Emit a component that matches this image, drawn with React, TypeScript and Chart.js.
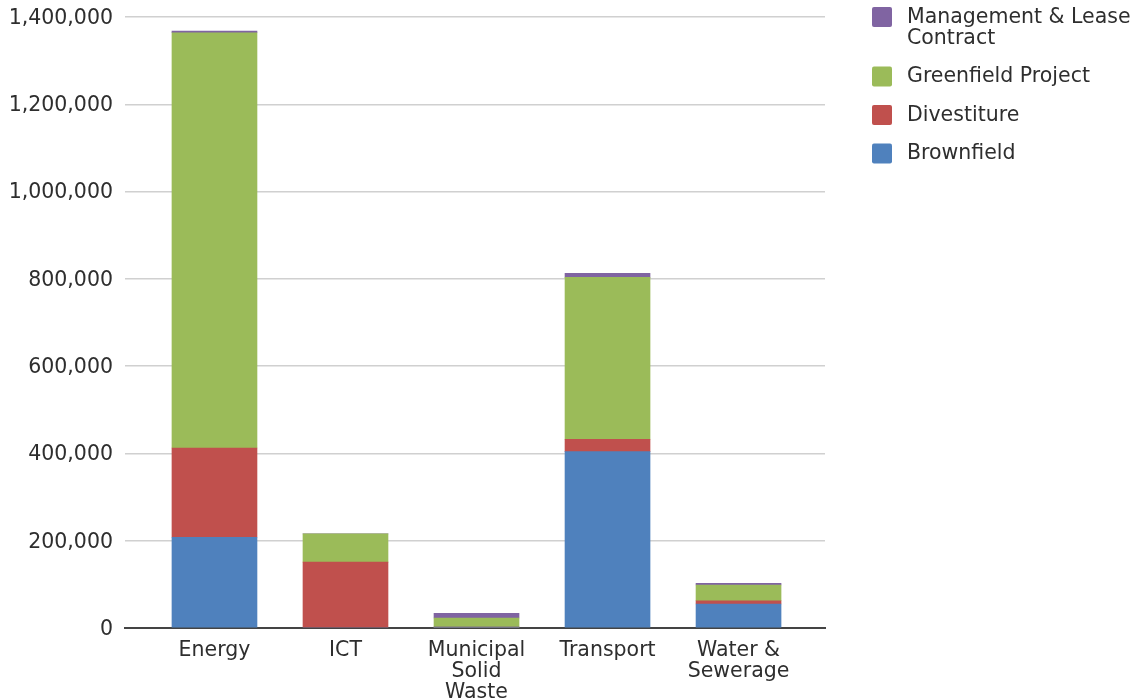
import React, { useEffect, useRef } from "react";
import { Chart, registerables } from "chart.js";

Chart.register(...registerables);

// Sector categories along the x axis
const categories = ["Energy", "ICT", "Municipal Solid Waste", "Transport", "Water & Sewerage"];
const categoryTickLabels: (string | string[])[] = ["Energy", "ICT", ["Municipal", "Solid", "Waste"], "Transport", ["Water &", "Sewerage"]];

// Investment by project type (stacked bottom to top)
const brownfield = [208000, 0, 2000, 404000, 55000];
const divestiture = [204500, 151000, 0, 28500, 7500];
const greenfield = [951500, 64500, 21000, 371000, 36000];
const managementLease = [3900, 0, 10800, 9200, 3900];

const yTicks = [0, 200000, 400000, 600000, 800000, 1000000, 1200000, 1400000];

const FONT = "'DejaVu Sans', Verdana, sans-serif";
const FONT_SIZE = 20.5;
const TEXT_COLOR = "#2e2e2e";

// Legend drawn to the right of the plot, top series first
const sideLegend = {
  id: "sideLegend",
  afterDraw(chart: Chart) {
    const { ctx, chartArea } = chart;
    const left = chartArea.right + 47;
    const textX = left + 35;
    const maxWidth = 230;
    const lineH = 21;
    const gap = 17.5;
    ctx.save();
    ctx.font = `${FONT_SIZE}px ${FONT}`;
    ctx.textBaseline = "middle";
    ctx.textAlign = "left";
    let y = 7;
    const items = chart.data.datasets.slice().reverse();
    for (const ds of items) {
      // greedy word wrap
      const words = String(ds.label).split(" ");
      const lines: string[] = [];
      let cur = "";
      for (const w of words) {
        const t = cur ? cur + " " + w : w;
        if (ctx.measureText(t).width > maxWidth && cur) {
          lines.push(cur);
          cur = w;
        } else cur = t;
      }
      if (cur) lines.push(cur);
      ctx.fillStyle = ds.backgroundColor as string;
      ctx.beginPath();
      (ctx as any).roundRect(left, y, 20, 20, 2);
      ctx.fill();
      ctx.fillStyle = TEXT_COLOR;
      lines.forEach((ln, i) => ctx.fillText(ln, textX, y + 10.5 + i * lineH));
      y += lines.length * lineH + gap;
    }
    ctx.restore();
  },
};

export default function App() {
  const canvasRef = useRef<HTMLCanvasElement | null>(null);

  useEffect(() => {
    document.body.style.margin = "0";
    const canvas = canvasRef.current;
    if (!canvas) return;
    const toPoints = (arr: number[]) => arr.map((v, i) => ({ x: i, y: v }));
    const font = { family: FONT, size: FONT_SIZE, lineHeight: 1.0 };
    const chart = new Chart(canvas, {
      type: "bar",
      data: {
        datasets: [
          { label: "Brownfield", data: toPoints(brownfield), backgroundColor: "#4F81BD" },
          { label: "Divestiture", data: toPoints(divestiture), backgroundColor: "#C0504D" },
          { label: "Greenfield Project", data: toPoints(greenfield), backgroundColor: "#9BBB59" },
          { label: "Management & Lease Contract", data: toPoints(managementLease), backgroundColor: "#8064A2" },
        ].map((d) => ({ ...d, barThickness: 85, borderWidth: 0 })),
      },
      options: {
        responsive: false,
        animation: false,
        layout: { padding: { top: 17, left: 8, right: 309, bottom: 0 } },
        plugins: {
          legend: { display: false },
          tooltip: { enabled: false },
        },
        scales: {
          x: {
            type: "linear",
            stacked: true,
            offset: false,
            min: -0.683,
            max: 4.66,
            afterBuildTicks: (s: any) => {
              s.ticks = categories.map((_, i) => ({ value: i }));
            },
            afterFit: (s: any) => {
              s.height = 72;
              s.paddingLeft = 0;
              s.paddingRight = 0;
            },
            ticks: {
              autoSkip: false,
              maxRotation: 0,
              padding: 12,
              color: TEXT_COLOR,
              font: { ...font, lineHeight: 1.02 },
              callback: (v: any) => categoryTickLabels[Number(v)] ?? "",
            },
            grid: { display: false, drawTicks: false },
            border: { display: true, color: "#444444", width: 2 },
          },
          y: {
            stacked: true,
            min: 0,
            max: 1400000,
            afterBuildTicks: (s: any) => {
              s.ticks = yTicks.map((v) => ({ value: v }));
            },
            afterFit: (s: any) => {
              s.width = 117;
              s.paddingTop = 0;
              s.paddingBottom = 0;
            },
            ticks: {
              padding: 12,
              labelOffset: 1.5,
              color: TEXT_COLOR,
              font,
              callback: (v: any) => Number(v).toLocaleString("en-US"),
            },
            grid: { color: "#d0d0d0", lineWidth: 1.5, drawTicks: false },
            border: { display: false },
          },
        },
      },
      plugins: [sideLegend],
    });
    return () => chart.destroy();
  }, []);

  return (
    <div style={{ width: 1134, height: 700 }}>
      <canvas ref={canvasRef} width={1134} height={700} />
    </div>
  );
}
